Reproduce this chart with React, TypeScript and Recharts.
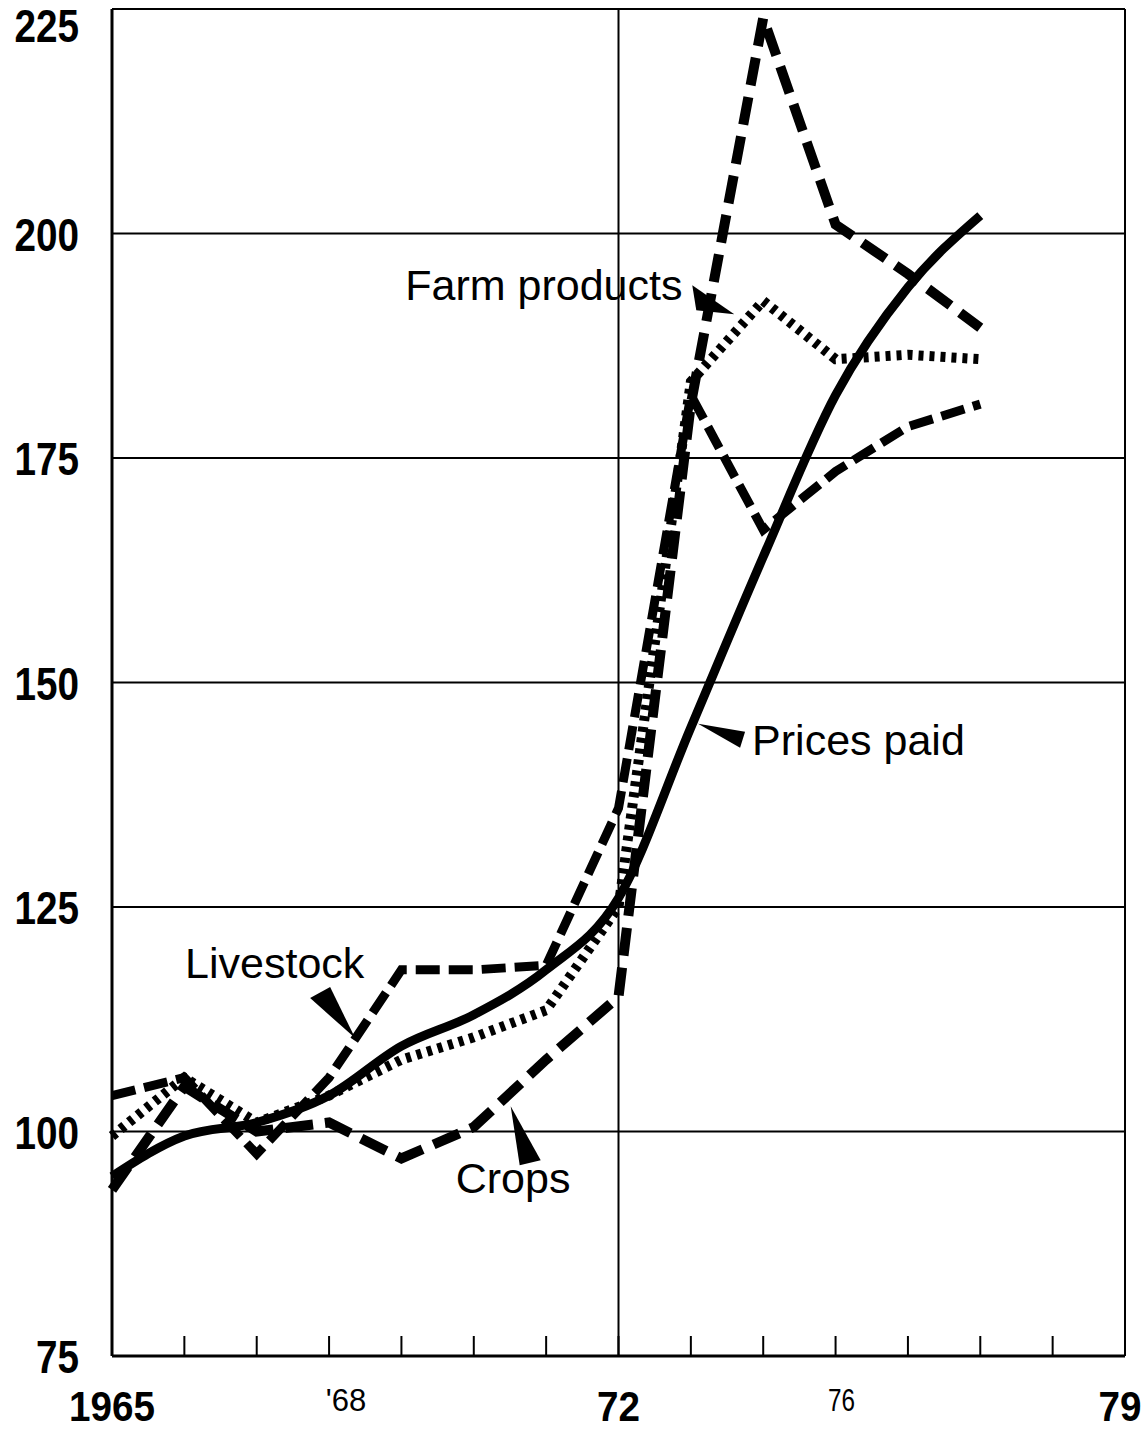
import {
  CartesianGrid,
  Line,
  LineChart,
  ReferenceDot,
  ReferenceLine,
  XAxis,
  YAxis,
} from "recharts";

const INK = "#000";
const SANS = "'Liberation Sans', Arial, sans-serif";

const YEARS = [1965, 1966, 1967, 1968, 1969, 1970, 1971, 1972, 1973, 1974, 1975, 1976, 1977];
const PRICES_PAID = [95, 99.5, 101, 104, 109.5, 113, 118, 126, 145, 164, 182, 194, 202];
const FARM_PRODUCTS = [99.5, 106, 101, 104, 108, 110.5, 113.5, 125, 183.5, 192.5, 186, 186.5, 186];
const CROPS = [93.5, 105, 100, 101, 97, 100.5, 108, 115, 181, 224, 201, 195.5, 189.5];
const LIVESTOCK = [104, 106, 97.5, 106, 118, 118, 118.5, 136, 182, 167, 173.5, 178.5, 181];

const Y_TICKS = [75, 100, 125, 150, 175, 200, 225];
const X_TICKS = [1965, 1966, 1967, 1968, 1969, 1970, 1971, 1972, 1973, 1974, 1975, 1976, 1977, 1978, 1979];
const X_TICK_LABELS: Record<number, string> = {
  1965: "1965",
  1968: "'68",
  1972: "72",
  1975: "76",
  1979: "79",
};

// callout tips, in data units
const CALLOUTS = [
  { text: "Farm products", year: 1973.6, value: 191 },
  { text: "Prices paid", year: 1973.1, value: 145.4 },
  { text: "Livestock", year: 1968.36, value: 110.4 },
  { text: "Crops", year: 1970.51, value: 102.8 },
];

const data = YEARS.map((year, i) => ({
  year,
  pricesPaid: PRICES_PAID[i],
  farmProducts: FARM_PRODUCTS[i],
  crops: CROPS[i],
  livestock: LIVESTOCK[i],
}));

// text offset and wedge shape relative to the tip, in px
const CALLOUT_STYLE: Record<string, { dx: number; dy: number; wedge: number[][] }> = {
  "Farm products": { dx: -329, dy: -14, wedge: [[-42, -29], [-38, -4], [0, 0]] },
  "Prices paid": { dx: 54, dy: 31, wedge: [[0, 0], [47, 8], [42, 24]] },
  Livestock: { dx: -170, dy: -60, wedge: [[-45, -40], [-25, -51], [0, 0]] },
  Crops: { dx: -55, dy: 87, wedge: [[0, 0], [9, 59], [30, 54]] },
};

// the scan's lettering is a condensed face, squeeze regular glyphs to fit
const narrow = (s: string, perChar: number) => ({
  textLength: s.length * perChar,
  lengthAdjust: "spacingAndGlyphs" as const,
});

function Callout(props: any, text: string) {
  const { cx, cy } = props;
  const s = CALLOUT_STYLE[text];
  const pts = s.wedge.map(([x, y]) => `${cx + x},${cy + y}`).join(" ");
  return (
    <g>
      <polygon points={pts} fill={INK} />
      <text x={cx + s.dx} y={cy + s.dy} fontFamily={SANS} fontSize={43} fill={INK}>
        {text}
      </text>
    </g>
  );
}

function YearTick(props: any) {
  const { x, y, payload } = props;
  const label = X_TICK_LABELS[payload.value];
  const light = label === "'68" || label === "76";
  let lx = x;
  if (label === "'68") lx = x + 17;
  if (label === "79") lx = x - 5;
  if (label === "76") lx = x + 6;
  return (
    <g>
      <line x1={x} x2={x} y1={y} y2={y - 20} stroke={INK} strokeWidth={2} />
      {label && (
        <text
          x={lx}
          y={light ? y + 55 : y + 65}
          textAnchor="middle"
          fontFamily={SANS}
          fontWeight={light ? 400 : 700}
          fontSize={light ? 31 : 42}
          fill={INK}
          {...narrow(label, light ? 13.5 : 21.5)}
        >
          {label}
        </text>
      )}
    </g>
  );
}

function ValueTick(props: any) {
  const { x, y, payload } = props;
  const s = String(payload.value);
  // top label sits at the page edge, keep it inside
  const base = Math.max(y + 17, 42);
  return (
    <text
      x={x}
      y={base}
      textAnchor="end"
      fontFamily={SANS}
      fontWeight={700}
      fontSize={46}
      fill={INK}
      {...narrow(s, 21.5)}
    >
      {s}
    </text>
  );
}

export default function App() {
  return (
    <div style={{ position: "absolute", left: 0, top: 0, width: 1148, height: 1429, background: "#fff" }}>
      <LineChart
        width={1148}
        height={1429}
        data={data}
        margin={{ top: 9, right: 23, bottom: 0, left: 12 }}
      >
        <CartesianGrid vertical={false} stroke={INK} strokeWidth={2} />
        <XAxis
          type="number"
          dataKey="year"
          domain={[1965, 1979]}
          ticks={X_TICKS}
          interval={0}
          height={73}
          tickSize={0}
          tickMargin={0}
          tickLine={false}
          axisLine={{ stroke: INK, strokeWidth: 3 }}
          tick={<YearTick />}
        />
        <YAxis
          domain={[75, 225]}
          ticks={Y_TICKS}
          interval={0}
          width={100}
          tickSize={0}
          tickMargin={33}
          tickLine={false}
          axisLine={{ stroke: INK, strokeWidth: 3 }}
          tick={<ValueTick />}
        />
        <ReferenceLine x={1972} stroke={INK} strokeWidth={2} />
        <ReferenceLine x={1979} stroke={INK} strokeWidth={2} />
        <Line
          dataKey="crops"
          stroke={INK}
          strokeWidth={10}
          strokeDasharray="28 12"
          dot={false}
          isAnimationActive={false}
        />
        <Line
          dataKey="livestock"
          stroke={INK}
          strokeWidth={9}
          strokeDasharray="24 9"
          dot={false}
          isAnimationActive={false}
        />
        <Line
          dataKey="farmProducts"
          stroke={INK}
          strokeWidth={10}
          strokeDasharray="5 6"
          dot={false}
          isAnimationActive={false}
        />
        <Line
          type="monotone"
          dataKey="pricesPaid"
          stroke={INK}
          strokeWidth={9}
          dot={false}
          isAnimationActive={false}
        />
        {CALLOUTS.map((c) => (
          <ReferenceDot
            key={c.text}
            x={c.year}
            y={c.value}
            r={0}
            shape={(p: any) => Callout(p, c.text)}
          />
        ))}
      </LineChart>
    </div>
  );
}
